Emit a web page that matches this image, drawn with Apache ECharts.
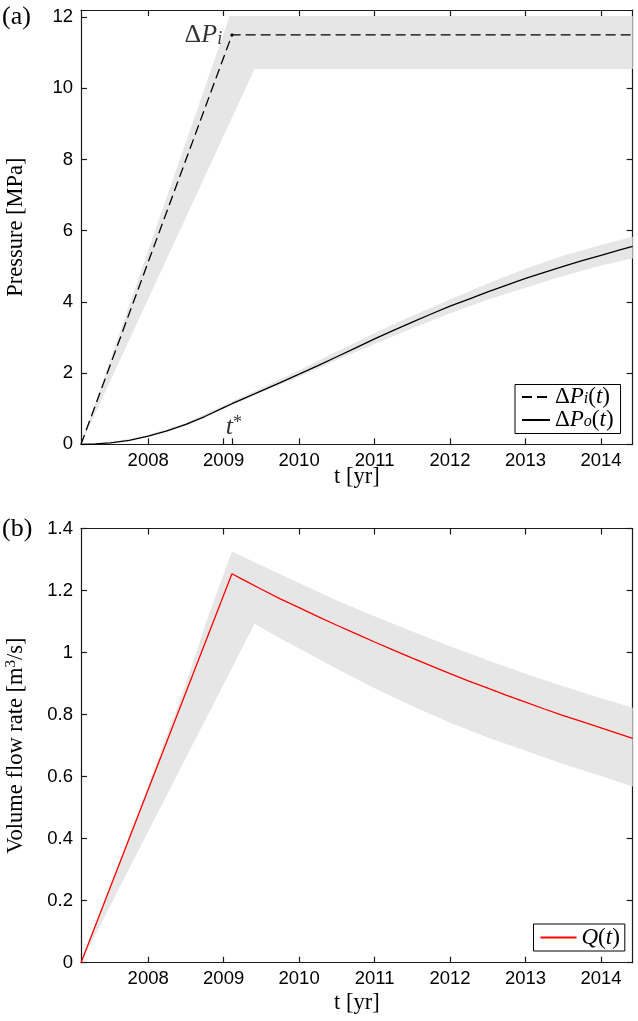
<!DOCTYPE html>
<html><head><meta charset="utf-8">
<script src="https://cdn.jsdelivr.net/npm/echarts@6/dist/echarts.min.js"></script>
<style>html,body{margin:0;padding:0;background:#fff}#c{width:638px;height:1021px}</style>
</head><body><div id="c"></div>
<script>
// ---------- data ----------
const tMin = 2007.11, tMax = 2014.42, tStar = 2009.11;
const xTicks = [2008, 2009, 2010, 2011, 2012, 2013, 2014];
const pTicks = [0, 2, 4, 6, 8, 10, 12];
const qTicks = [0, 0.2, 0.4, 0.6, 0.8, 1, 1.2, 1.4];
const pMax = 12.2, qMax = 1.4;

// inflow pressure ΔP_i(t) and its uncertainty band
const dPi      = [[2007.11, 0], [2009.11, 11.5], [2014.42, 11.5]];
const dPiUpper = [[2007.11, 0], [2009.08, 12.03], [2014.42, 12.03]];
const dPiLower = [[2007.11, 0], [2009.41, 10.54], [2014.42, 10.54]];

// outflow pressure ΔP_o(t) and band
const dPo = [[2007.11,0],[2007.3,0.01],[2007.5,0.04],[2007.75,0.11],[2008.0,0.23],[2008.25,0.38],
  [2008.5,0.56],[2008.75,0.78],[2009.0,1.03],[2009.11,1.14],[2009.25,1.27],[2009.5,1.50],
  [2009.75,1.73],[2010.0,1.97],[2010.25,2.21],[2010.5,2.46],[2010.75,2.71],[2011.0,2.96],
  [2011.25,3.20],[2011.5,3.43],[2011.75,3.66],[2012.0,3.88],[2012.25,4.08],[2012.5,4.28],
  [2012.75,4.47],[2013.0,4.66],[2013.25,4.83],[2013.5,5.00],[2013.75,5.16],[2014.0,5.31],
  [2014.25,5.46],[2014.42,5.56]];
const dPoUpper = [[2007.11,0],[2007.5,0.05],[2008.0,0.26],[2008.5,0.6],[2009.11,1.2],[2009.5,1.58],
  [2010.0,2.08],[2010.5,2.61],[2011.0,3.12],[2011.5,3.61],[2012.0,4.07],[2012.5,4.52],
  [2013.0,4.93],[2013.5,5.3],[2014.0,5.6],[2014.42,5.83]];
const dPoLower = [[2007.11,0],[2007.5,0.03],[2008.0,0.21],[2008.5,0.52],[2009.11,1.1],[2009.5,1.46],
  [2010.0,1.9],[2010.5,2.37],[2011.0,2.82],[2011.5,3.26],[2012.0,3.68],[2012.5,4.06],
  [2013.0,4.4],[2013.5,4.73],[2014.0,5.02],[2014.42,5.22]];

// volume flow rate Q(t) and band
const Q = [[2007.11,0],[2009.11,1.254],[2009.25,1.236],[2009.5,1.204],[2009.75,1.173],[2010.0,1.145],
  [2010.25,1.116],[2010.5,1.088],[2010.75,1.061],[2011.0,1.034],[2011.25,1.008],[2011.5,0.982],
  [2011.75,0.957],[2012.0,0.932],[2012.25,0.908],[2012.5,0.885],[2012.75,0.862],[2013.0,0.840],
  [2013.25,0.818],[2013.5,0.797],[2013.75,0.777],[2014.0,0.757],[2014.25,0.737],[2014.42,0.723]];
const QUpper = [[2007.11,0],[2008.0,0.57],[2008.5,0.9],[2008.8,1.12],[2009.11,1.326],[2009.5,1.281],
  [2010.0,1.224],[2010.5,1.168],[2011.0,1.117],[2011.5,1.068],[2012.0,1.020],[2012.5,0.975],
  [2013.0,0.932],[2013.5,0.891],[2014.0,0.853],[2014.42,0.822]];
const QLower = [[2007.11,0],[2009.41,1.093],[2009.75,1.045],[2010.0,1.013],[2010.5,0.948],[2011.0,0.885],
  [2011.5,0.828],[2012.0,0.774],[2012.5,0.726],[2013.0,0.683],[2013.5,0.641],[2014.0,0.602],[2014.42,0.568]];

// ---------- styles ----------
const AX = '#1a1a1a';
const SERIF = '"Liberation Serif", "Times New Roman", serif';
const SANS = '"Liberation Sans", Arial, sans-serif';
const BAND = '#e6e6e6';
function mkRich(fs, lh) {
  return {
    n:   {fontFamily: SERIF, fontSize: fs, lineHeight: lh, color: '#000'},
    i:   {fontFamily: SERIF, fontSize: fs, lineHeight: lh, fontStyle: 'italic', color: '#000'},
    sub: {fontFamily: SERIF, fontSize: Math.round(fs * 0.68), lineHeight: Math.round(lh * 0.5), fontStyle: 'italic', verticalAlign: 'bottom', color: '#000'},
    sup: {fontFamily: SERIF, fontSize: Math.round(fs * 0.68), lineHeight: Math.round(lh * 0.5), verticalAlign: 'top', color: '#000'}
  };
}
const richLegend = mkRich(23, 20);
const richAnno = mkRich(26, 26);

const grids = [
  {left: 81, top: 10, width: 551.7, height: 434.3, show: false, outerBoundsMode: 'none', containLabel: false},
  {left: 81, top: 528.5, width: 551.7, height: 434.2, show: false, outerBoundsMode: 'none', containLabel: false}
];

function xAx(g, pos, main, ticks, gap) {
  return {
    type: 'value', gridIndex: g, position: pos, min: tMin, max: tMax,
    splitLine: {show: false},
    axisLine: {show: true, onZero: false, lineStyle: {color: AX, width: 1.2}},
    axisTick: {show: true, inside: true, length: 6, customValues: ticks, lineStyle: {color: AX, width: 1.2}},
    axisLabel: {show: main, customValues: xTicks, margin: 7, color: '#000', fontFamily: SANS, fontSize: 18.5,
      formatter: v => String(v)},
    name: main ? 't [yr]' : '', nameLocation: 'middle', nameGap: gap, nameMoveOverlap: false,
    nameTextStyle: {fontFamily: SERIF, fontSize: 22.5, color: '#000'}
  };
}
function yAx(g, pos, main, max, ticks, name) {
  return {
    type: 'value', gridIndex: g, position: pos, min: 0, max: max,
    splitLine: {show: false},
    axisLine: {show: true, onZero: false, lineStyle: {color: AX, width: 1.2}},
    axisTick: {show: true, inside: true, length: 6, customValues: ticks, lineStyle: {color: AX, width: 1.2}},
    axisLabel: {show: main, customValues: ticks, margin: 8, color: '#000', fontFamily: SANS, fontSize: 18.5,
      formatter: v => String(v)},
    name: main ? name : '', nameLocation: 'middle', nameGap: 53, nameRotate: 90, nameMoveOverlap: false,
    nameTextStyle: {fontFamily: SERIF, fontSize: 22.5, color: '#000',
      rich: {n: {fontFamily: SERIF, fontSize: 22.5, lineHeight: 24, color: '#000'},
             sup: {fontFamily: SERIF, fontSize: 15, lineHeight: 12, verticalAlign: 'top', color: '#000'}}}
  };
}

function band(xi, yi, upper, lower) {
  return {
    type: 'custom', xAxisIndex: xi, yAxisIndex: yi, clip: true, silent: true, z: 1,
    data: [[upper[0][0], upper[0][1]]],
    renderItem: function (params, api) {
      const pts = upper.concat(lower.slice().reverse()).map(p => api.coord(p));
      return {type: 'polygon', shape: {points: pts}, style: {fill: BAND, stroke: null}};
    }
  };
}

const option = {
  animation: false,
  backgroundColor: '#fff',
  grid: grids,
  xAxis: [
    xAx(0, 'bottom', true, xTicks.concat([tStar]), 21),
    xAx(0, 'top', false, xTicks, 15),
    xAx(1, 'bottom', true, xTicks, 29),
    xAx(1, 'top', false, xTicks, 15)
  ],
  yAxis: [
    yAx(0, 'left', true, pMax, pTicks, 'Pressure [MPa]'),
    yAx(0, 'right', false, pMax, pTicks, ''),
    yAx(1, 'left', true, qMax, qTicks, '{n|Volume flow rate [m}{sup|3}{n|/s]}'),
    yAx(1, 'right', false, qMax, qTicks, '')
  ],
  legend: [
    {
      data: ['dPi', 'dPo'], orient: 'vertical', left: 515, top: 384.5,
      padding: [1, 7, 2, 6], itemGap: 0, itemWidth: 28, itemHeight: 14,
      backgroundColor: '#fff', borderColor: '#000', borderWidth: 1, borderRadius: 0,
      itemStyle: {opacity: 0},
      formatter: function (name) {
        return name === 'dPi' ? '{n|Δ}{i|P}{sub|i}{n|(}{i|t}{n|)}' : '{n|Δ}{i|P}{sub|o}{n|(}{i|t}{n|)}';
      },
      textStyle: {rich: richLegend}
    },
    {
      data: ['Q'], orient: 'vertical', left: 533.5, top: 924,
      padding: [2, 5, 2, 6], itemWidth: 36, itemHeight: 14,
      backgroundColor: '#fff', borderColor: '#000', borderWidth: 1, borderRadius: 0,
      itemStyle: {opacity: 0},
      formatter: function () { return '{i|Q}{n|(}{i|t}{n|)}'; },
      textStyle: {rich: richLegend}
    }
  ],
  graphic: [
    {type: 'text', left: 2, top: 4, style: {text: '(a)', fontFamily: SERIF, fontSize: 26, fill: '#000'}},
    {type: 'text', left: 2, top: 516, style: {text: '(b)', fontFamily: SERIF, fontSize: 26, fill: '#000'}}
  ],
  series: [
    band(0, 0, dPiUpper, dPiLower),
    band(0, 0, dPoUpper, dPoLower),
    band(2, 2, QUpper, QLower),
    {
      name: 'dPi', type: 'line', xAxisIndex: 0, yAxisIndex: 0, data: dPi, symbol: 'none', z: 3,
      lineStyle: {color: '#000', width: 1.3, type: [10, 5]}, itemStyle: {color: '#000'}
    },
    {
      name: 'dPo', type: 'line', xAxisIndex: 0, yAxisIndex: 0, data: dPo, symbol: 'none', z: 3,
      lineStyle: {color: '#000', width: 1.3}, itemStyle: {color: '#000'}
    },
    {
      type: 'scatter', xAxisIndex: 0, yAxisIndex: 0, data: [dPi[1]], symbolSize: 3.5, z: 4,
      itemStyle: {color: '#000'}, silent: true,
      label: {show: true, position: 'left', distance: 8, formatter: '{n|Δ}{i|P}{sub|i}', rich: richAnno}
    },
    {
      type: 'scatter', xAxisIndex: 0, yAxisIndex: 0, data: [[tStar, 0]], symbolSize: 0, z: 4, silent: true,
      label: {show: true, position: 'top', distance: 4, offset: [2, 0], formatter: '{i|t}{sup|*}', rich: richAnno}
    },
    {
      name: 'Q', type: 'line', xAxisIndex: 2, yAxisIndex: 2, data: Q, symbol: 'none', z: 3,
      lineStyle: {color: '#ff0000', width: 1.3}, itemStyle: {color: '#ff0000'}
    }
  ]
};
const chart = echarts.init(document.getElementById('c'), null, {renderer: 'canvas'});
chart.setOption(option);
</script></body></html>
